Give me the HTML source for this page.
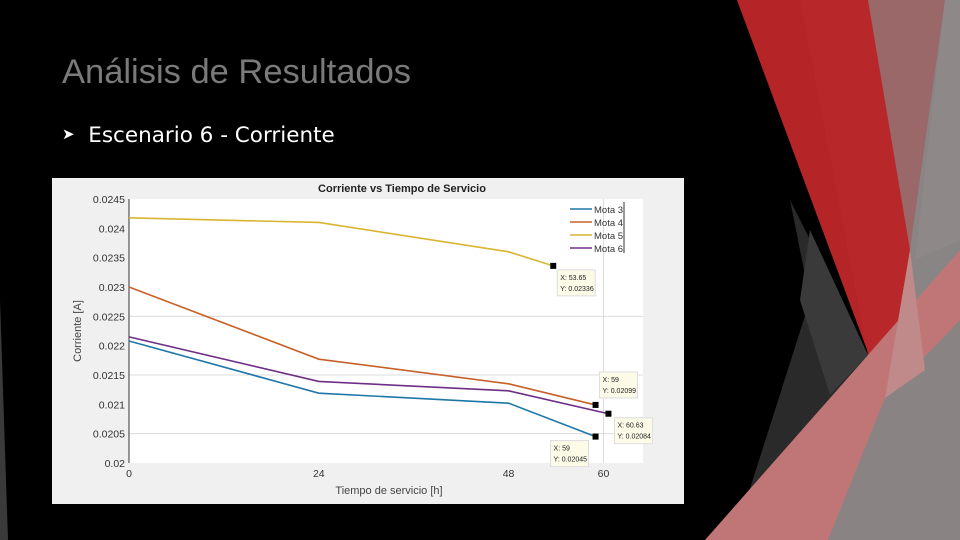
<!DOCTYPE html>
<html><head><meta charset="utf-8"><style>
body{margin:0;width:960px;height:540px;background:#000;overflow:hidden;position:relative;font-family:"Liberation Sans",sans-serif}
#title{position:absolute;left:62px;top:53px;font-size:34.5px;color:#7a7a7a}
#bullet{position:absolute;left:62px;top:123px;font-size:21.5px;color:#fff;font-family:"DejaVu Sans","Liberation Sans",sans-serif}
</style></head><body>
<svg width="960" height="540" style="position:absolute;left:0;top:0">
<polygon points="0,300 0,540 8,540" fill="#3a3a3a"/>
<polygon points="868,0 960,0 960,540 880,540" fill="#8a8585"/>
<polygon points="868,0 945,0 910,250 885,398" fill="#9a6868"/>
<polygon points="945,0 960,0 960,240 915,260" fill="#8e8888"/>
<polygon points="790,200 868,355 740,520 810,300" fill="#2a2a2a"/>
<polygon points="810,230 868,355 830,395 800,300" fill="#3a3a3a"/>
<polygon points="737,0 868,0 910,250 885,398" fill="#b8282a"/>
<polygon points="737,0 800,0 868,355 885,398" fill="#b52427"/>
<polygon points="868,355 890,330 885,398" fill="#e84048"/>
<polygon points="705,540 868,355 960,250 960,330 828,540" fill="#c07676"/>
<polygon points="885,398 960,320 960,540 828,540" fill="#898383"/>
<polygon points="885,398 910,250 925,370" fill="#c08a8a"/>
</svg>
<div id="title">Análisis de Resultados</div>
<div id="bullet"><span style="font-size:15px;position:relative;top:-3px">&#10148;</span>&nbsp;&nbsp;Escenario 6 - Corriente</div>
<svg id="chart" width="632" height="326" style="position:absolute;left:52px;top:178px"></svg>
<script>
const xVals=[0,24,48,59];
const mota3=[0.02208,0.02119,0.02102,0.02045];
const mota4=[0.0230,0.02177,0.02135,0.02099];
const mota5x=[0,24,48,53.65];
const mota5=[0.02418,0.02410,0.02360,0.02336];
const mota6x=[0,24,48,60.63];
const mota6=[0.02215,0.02139,0.02123,0.02084];
const xTicks=[0,24,48,60];
const yTicks=[0.02,0.0205,0.021,0.0215,0.022,0.0225,0.023,0.0235,0.024,0.0245];
const yTickLabels=["0.02","0.0205","0.021","0.0215","0.022","0.0225","0.023","0.0235","0.024","0.0245"];
const names=["Mota 3","Mota 4","Mota 5","Mota 6"];
const colors=["#1f77a8","#c8602a","#d9b532","#6e2e86"];
const tips=[[59,0.02045,"X: 59","Y: 0.02045"],[59,0.02099,"X: 59","Y: 0.02099"],[53.65,0.02336,"X: 53.65","Y: 0.02336"],[60.63,0.02084,"X: 60.63","Y: 0.02084"]];
const svg=document.getElementById('chart');const NS="http://www.w3.org/2000/svg";
const L=77,R=591,T=21,B=285,X0=0,X1=65,Y0=0.02,Y1=0.0245;
const sx=v=>L+(v-X0)/(X1-X0)*(R-L), sy=v=>B-(v-Y0)/(Y1-Y0)*(B-T);
function mk(t,a,p){const e=document.createElementNS(NS,t);for(const k in a)e.setAttribute(k,a[k]);(p||svg).appendChild(e);return e;}
let e;
e=mk('rect',{x:0,y:0,width:632,height:326,fill:'#f0f0f0'});


e=mk('rect',{x:L,y:T,width:R-L,height:B-T,fill:'#fff'});


[0.0205,0.0215,0.0225].forEach(v=>{e=mk('line',{x1:L,x2:R,y1:sy(v),y2:sy(v),stroke:'#dcdcdc'});

});
e=mk('line',{x1:sx(60),x2:sx(60),y1:T,y2:B,stroke:'#dcdcdc'});


e=mk('line',{x1:L,x2:L,y1:T,y2:B,stroke:'#333'});


yTicks.forEach((v,i)=>{const t=mk('text',{x:L-4,y:sy(v)+4,'text-anchor':'end','font-size':10.5,fill:'#333'});t.textContent=yTickLabels[i];

});
xTicks.forEach(v=>{const t=mk('text',{x:sx(v),y:B+14,'text-anchor':'middle','font-size':10.5,fill:'#333'});t.textContent=v;

});
let t=mk('text',{x:(L+R)/2+16,y:14,'text-anchor':'middle','font-size':11,'font-weight':'bold',fill:'#222'});t.textContent='Corriente vs Tiempo de Servicio';


t=mk('text',{x:(L+R)/2+3,y:316,'text-anchor':'middle','font-size':11,fill:'#444'});t.textContent='Tiempo de servicio [h]';


t=mk('text',{x:29,y:(T+B)/2,'text-anchor':'middle','font-size':11,fill:'#444',transform:`rotate(-90 29 ${(T+B)/2})`});t.textContent='Corriente [A]';


const series=[[xVals,mota3],[xVals,mota4],[mota5x,mota5],[mota6x,mota6]];
series.forEach((s,i)=>{const p=s[0].map((x,j)=>sx(x)+','+sy(s[1][j])).join(' ');
const l=mk('polyline',{points:p,fill:'none',stroke:colors[i],'stroke-width':1.6});

});
tips.forEach((d,i)=>{const px=sx(d[0]),py=sy(d[1]);
const m=mk('rect',{x:px-3,y:py-3,width:6,height:6,fill:'#000'});


let bx,by;if(i==0){bx=px-45;by=py+4}else if(i==1){bx=px+4;by=py-33}else if(i==2){bx=px+4;by=py+4}else{bx=px+6;by=py+4}
const g=mk('g',{});

mk('rect',{x:bx,y:by,width:38,height:26,fill:'#fbfbe8',stroke:'#ddd'},g);
const a=mk('text',{x:bx+3,y:by+10,'font-size':7,fill:'#222'},g);a.textContent=d[2];
const b=mk('text',{x:bx+3,y:by+21,'font-size':7,fill:'#222'},g);b.textContent=d[3];});
const lg=mk('g',{});

mk('line',{x1:572,x2:572,y1:24,y2:75,stroke:'#333'},lg);
names.forEach((n,i)=>{const y=31+i*13;
const ln=mk('line',{x1:518,x2:540,y1:y,y2:y,stroke:colors[i],'stroke-width':1.6},lg);


const tx=mk('text',{x:542,y:y+4,'font-size':9.5,fill:'#333'},lg);tx.textContent=n;

});
</script>
</body></html>
